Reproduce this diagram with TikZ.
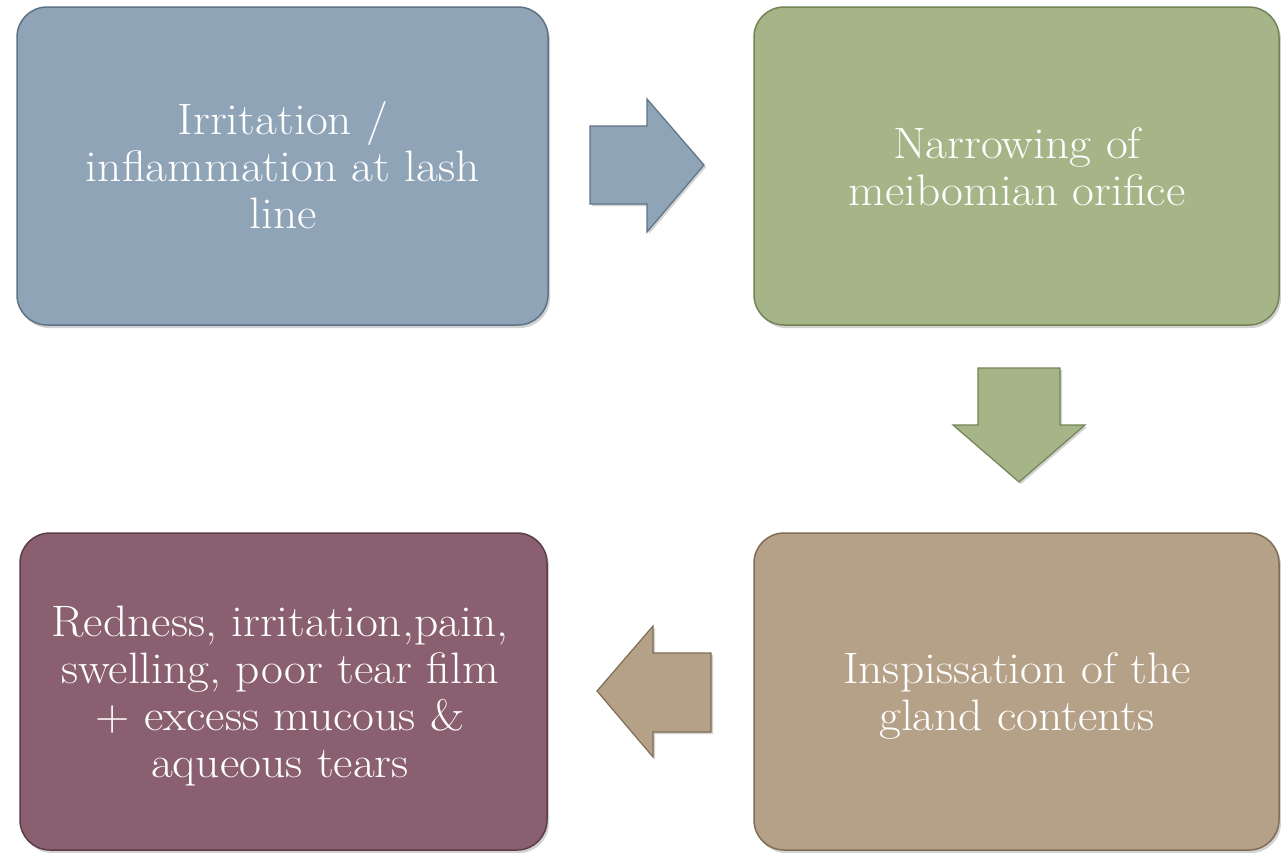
\documentclass[tikz,border=0pt]{standalone}
\usepackage{fontspec}
\setmainfont{Latin Modern Roman}[FakeStretch=1.08]
\usetikzlibrary{shadows}
\definecolor{cblue}{HTML}{8FA5B7}
\definecolor{cbluedk}{HTML}{5E7385}
\definecolor{cgreen}{HTML}{A5B587}
\definecolor{cgreendk}{HTML}{738457}
\definecolor{ctan}{HTML}{B5A187}
\definecolor{ctandk}{HTML}{7F6E55}
\definecolor{cmaroon}{HTML}{8A6070}
\definecolor{cmaroondk}{HTML}{5E3D4A}
\begin{document}
\begin{tikzpicture}[x=1pt,y=-1pt,
  box/.style={rounded corners=30pt, line width=1.5pt,
    drop shadow={shadow xshift=2pt,shadow yshift=-3pt,opacity=0.35}},
  boxtext/.style={text=white, align=center, anchor=base, inner sep=0pt,
    font=\fontsize{44}{47}\selectfont},
  blockarrow/.style={line width=1.2pt, line join=miter,
    drop shadow={shadow xshift=2pt,shadow yshift=-2pt,opacity=0.35}}]
\useasboundingbox (0,0) rectangle (1281,852);
\fill[white] (0,0) rectangle (1281,852);
% boxes
\draw[box, fill=cblue, draw=cbluedk] (17,7) rectangle (548,325);
\draw[box, fill=cgreen, draw=cgreendk] (754,7) rectangle (1279,325);
\draw[box, fill=ctan, draw=ctandk] (754,533) rectangle (1279,850);
\draw[box, fill=cmaroon, draw=cmaroondk] (20,533) rectangle (547,850);
% texts (anchor = baseline of last line)
\node[boxtext] (t1) at (283,228) {Irritation /\\inflammation at lash\\line};
\node[boxtext] (t2) at (1017,205) {Narrowing of\\meibomian orifice};
\node[boxtext] (t3) at (1017,730) {Inspissation of the\\gland contents};
\node[boxtext] (t4) at (280,777) {Redness, irritation,pain,\\swelling, poor tear film\\+ excess mucous \&\\aqueous tears};
% arrows
\draw[blockarrow, fill=cblue, draw=cbluedk]
  (590,126) -- (647,126) -- (647,99) -- (704,165) -- (647,232) -- (647,204) -- (590,204) -- cycle;
\draw[blockarrow, fill=cgreen, draw=cgreendk]
  (978,368) -- (1060,368) -- (1060,425) -- (1085,425) -- (1019,482) -- (953,425) -- (978,425) -- cycle;
\draw[blockarrow, fill=ctan, draw=ctandk]
  (711,653) -- (653,653) -- (653,626) -- (597,691) -- (653,757) -- (653,732) -- (711,732) -- cycle;
\end{tikzpicture}
\end{document}
